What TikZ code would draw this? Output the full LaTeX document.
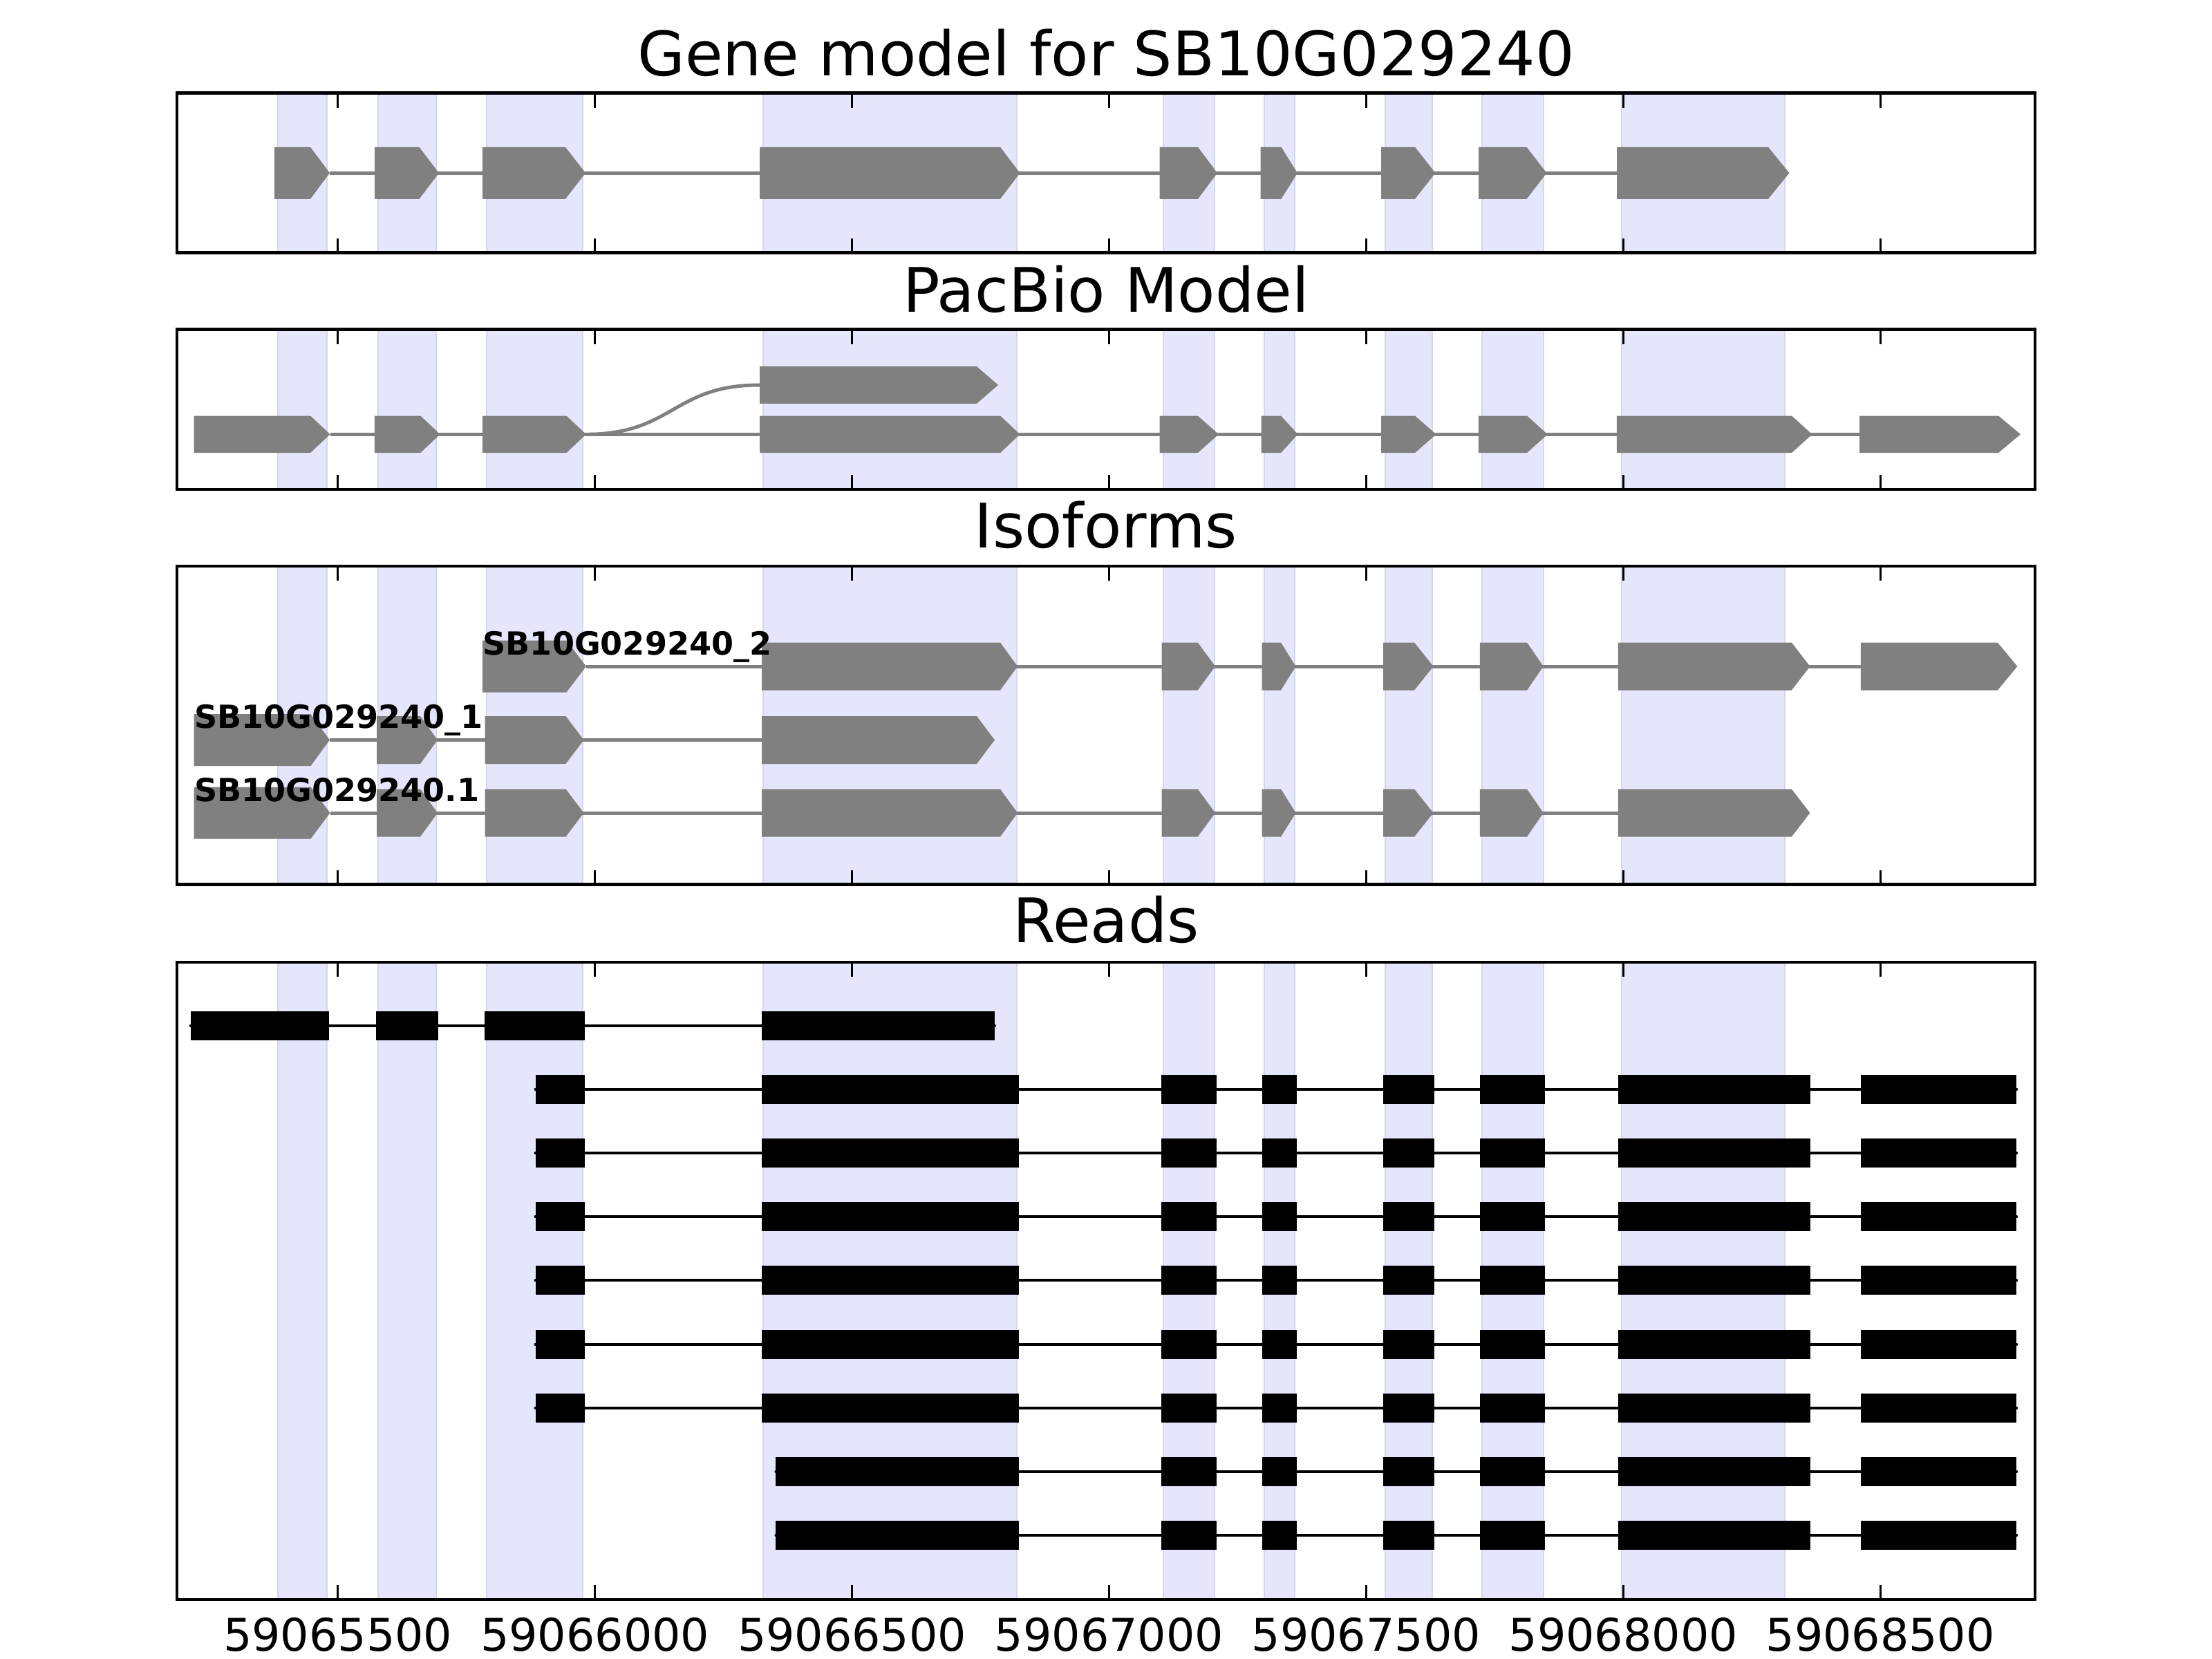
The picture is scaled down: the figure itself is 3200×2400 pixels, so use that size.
\documentclass[tikz,border=0pt]{standalone}
\usepackage{fontspec}
\setmainfont{DejaVu Sans}
\definecolor{spanfill}{RGB}{229,229,252}
\definecolor{spanline}{RGB}{214,214,234}
\def\spans(#1:#2){%
	\filldraw[fill=spanfill, draw=spanline, line width=0.2mm] (402, #1) rectangle (473, #2);
	\filldraw[fill=spanfill, draw=spanline, line width=0.2mm] (547, #1) rectangle (631, #2);
	\filldraw[fill=spanfill, draw=spanline, line width=0.2mm] (704, #1) rectangle (843, #2);
	\filldraw[fill=spanfill, draw=spanline, line width=0.2mm] (1104, #1) rectangle (1471, #2);
	\filldraw[fill=spanfill, draw=spanline, line width=0.2mm] (1683, #1) rectangle (1757, #2);
	\filldraw[fill=spanfill, draw=spanline, line width=0.2mm] (1829, #1) rectangle (1873, #2);
	\filldraw[fill=spanfill, draw=spanline, line width=0.2mm] (2004, #1) rectangle (2072, #2);
	\filldraw[fill=spanfill, draw=spanline, line width=0.2mm] (2144, #1) rectangle (2233, #2);
	\filldraw[fill=spanfill, draw=spanline, line width=0.2mm] (2345.5, #1) rectangle (2582, #2);}
\def\axisbox(#1:#2){%
	\draw[line width=0.47mm] (256, #1) rectangle (2944, #2);
	\foreach \tx in {488.8, 860.7, 1232.6, 1604.5, 1976.4, 2348.3, 2720.2}
		{\draw[line width=0.3mm] (\tx, #1) -- (\tx, #1+21) (\tx, #2) -- (\tx, #2-21);}}
\def\exon(#1,#2,#3)(#4:#5){\fill[color=black!50] (#1, #4-#5) -- (#2, #4-#5) -- (#3, #4) -- (#2, #4+#5) -- (#1, #4+#5) -- cycle;}
\def\readblock(#1,#2)(#3){\fill (#1, #3-21) rectangle (#2, #3+21);}
\begin{document}
\begin{tikzpicture}[x=0.01cm, y=-0.01cm,
		title/.style={anchor=base, inner sep=0pt, font=\fontsize{25.25pt}{30pt}\selectfont},
		ticklabel/.style={anchor=base, inner sep=0pt, font=\fontsize{18.5pt}{22pt}\selectfont},
		isolabel/.style={anchor=base west, inner sep=0pt, font=\bfseries\fontsize{13.1pt}{15pt}\selectfont}]
		%%%%% START %%%%%
		
		\useasboundingbox (0, 0) rectangle (3200, 2400);
		\fill[white] (0, 0) rectangle (3200, 2400);
		
		%%%%% gene model %%%%%
		\node[title] (genetitle) at (1600, 109.4) {Gene model for SB10G029240};
		\spans(134.7:365.8)
		\draw[line width=0.5mm, color=black!50] (477, 250.3) -- (2339, 250.3);
		\exon(397,449,477)(250.3:37.5)
		\exon(542,606.5,635)(250.3:37.5)
		\exon(698,818,847)(250.3:37.5)
		\exon(1099,1447,1475.5)(250.3:37.5)
		\exon(1677.7,1733,1761)(250.3:37.5)
		\exon(1823.5,1853.5,1877)(250.3:37.5)
		\exon(1998,2047,2076.5)(250.3:37.5)
		\exon(2139,2208.5,2237.5)(250.3:37.5)
		\exon(2339,2558,2588.5)(250.3:37.5)
		\axisbox(134.7:365.8)
		
		%%%%% pacbio %%%%%
		\node[title] (pacbiotitle) at (1600, 451.5) {PacBio Model};
		\spans(476.8:707.9)
		\draw[line width=0.5mm, color=black!50] (477.6, 628.3) -- (2690, 628.3);
		\draw[line width=0.5mm, color=black!50] (848, 628.3) .. controls (973.5, 628.3) and (973.5, 557) .. (1099, 557);
		\exon(280.6,449,477.6)(628.3:26.8)
		\exon(541.8,608.2,636.7)(628.3:26.8)
		\exon(698,819.4,848)(628.3:26.8)
		\exon(1099,1447,1475.5)(628.3:26.8)
		\exon(1677.6,1732.7,1763)(628.3:26.8)
		\exon(1824.5,1853,1877.6)(628.3:26.8)
		\exon(1998,2047,2077.6)(628.3:26.8)
		\exon(2138.8,2209,2238.8)(628.3:26.8)
		\exon(2338.8,2592,2621.5)(628.3:26.8)
		\exon(2690,2891,2923)(628.3:26.8)
		\exon(1099,1413,1444)(557:26.8)
		\axisbox(476.8:707.9)
		
		%%%%% isoforms %%%%%
		\node[title] (isotitle) at (1600, 792.9) {Isoforms};
		\spans(818.9:1279.5)
		\draw[line width=0.5mm, color=black!50] (848, 964) -- (2691.8, 964);
		\exon(698,819.4,848)(964:37.5)
		\exon(1102,1447,1472)(964:34.5)
		\exon(1680.6,1732.7,1758)(964:34.5)
		\exon(1825.5,1853,1874.5)(964:34.5)
		\exon(2001,2046,2073.5)(964:34.5)
		\exon(2140.8,2209,2232.7)(964:34.5)
		\exon(2340.8,2591.8,2618.4)(964:34.5)
		\exon(2691.8,2889.8,2918.4)(964:34.5)
		\node[isolabel] (isotwo) at (698, 947.5) {SB10G029240\_2};
		
		\draw[line width=0.5mm, color=black!50] (477, 1070.5) -- (1102, 1070.5);
		\exon(280.6,449.5,477)(1070.5:37.5)
		\exon(545,608,633)(1070.5:34.5)
		\exon(701.5,818.5,844.5)(1070.5:34.5)
		\exon(1102,1413,1439)(1070.5:34.5)
		\node[isolabel] (isoone) at (280.6, 1053) {SB10G029240\_1};
		
		\draw[line width=0.5mm, color=black!50] (477.5, 1176) -- (2340.8, 1176);
		\exon(280.6,449.5,477.5)(1176:37.5)
		\exon(545,608,633)(1176:34.5)
		\exon(701.5,818.5,844.5)(1176:34.5)
		\exon(1102,1447,1472)(1176:34.5)
		\exon(1680.6,1732.7,1758)(1176:34.5)
		\exon(1825.5,1853,1874.5)(1176:34.5)
		\exon(2001,2046,2073.5)(1176:34.5)
		\exon(2140.8,2209,2232.7)(1176:34.5)
		\exon(2340.8,2591.8,2618.4)(1176:34.5)
		\node[isolabel] (isodot) at (280.6, 1159.5) {SB10G029240.1};
		\axisbox(818.9:1279.5)
		
		%%%%% reads %%%%%
		\node[title] (readtitle) at (1600, 1363) {Reads};
		\spans(1392:2314)
		
		\draw[line width=0.4mm, line cap=round] (275.5, 1483.5) -- (1439, 1483.5);
		\readblock(275.5,476)(1483.5)
		\readblock(544,634)(1483.5)
		\readblock(701,846)(1483.5)
		\readblock(1102,1439)(1483.5)
		
		\foreach \ry in {1575.7, 1667.9, 1760.1, 1852.3, 1944.5, 2036.7} {
			\draw[line width=0.4mm, line cap=round] (774.5, \ry) -- (2917.3, \ry);
			\readblock(774.5,846)(\ry)
			\readblock(1102,1473.5)(\ry)
		}
		\foreach \ry in {2128.9, 2221.1} {
			\draw[line width=0.4mm, line cap=round] (1122.4, \ry) -- (2917.3, \ry);
			\readblock(1122.4,1473.5)(\ry)
		}
		\foreach \ry in {1575.7, 1667.9, 1760.1, 1852.3, 1944.5, 2036.7, 2128.9, 2221.1} {
			\readblock(1679.6,1760.2)(\ry)
			\readblock(1825.5,1875.5)(\ry)
			\readblock(2001,2074.5)(\ry)
			\readblock(2140.8,2234.7)(\ry)
			\readblock(2340.8,2619.4)(\ry)
			\readblock(2691.8,2917.3)(\ry)
		}
		\axisbox(1392:2314)
		
		\node[ticklabel] (tick1) at (488.8, 2388.7) {59065500};
		\node[ticklabel] (tick2) at (860.7, 2388.7) {59066000};
		\node[ticklabel] (tick3) at (1232.6, 2388.7) {59066500};
		\node[ticklabel] (tick4) at (1604.5, 2388.7) {59067000};
		\node[ticklabel] (tick5) at (1976.4, 2388.7) {59067500};
		\node[ticklabel] (tick6) at (2348.3, 2388.7) {59068000};
		\node[ticklabel] (tick7) at (2720.2, 2388.7) {59068500};
		
		%%%%% END %%%%%
\end{tikzpicture}
\end{document}
